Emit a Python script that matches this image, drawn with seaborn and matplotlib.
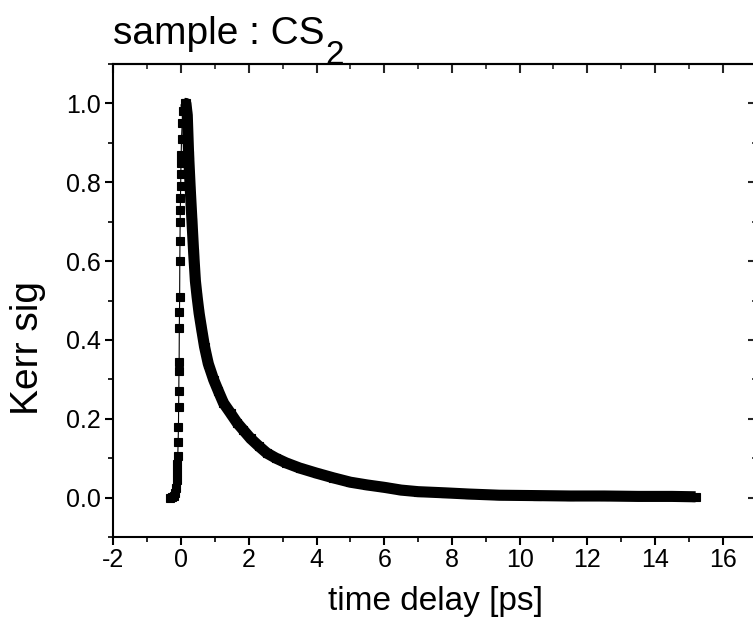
import matplotlib
matplotlib.use("Agg")
import matplotlib.pyplot as plt
import seaborn as sns
import pandas as pd
from matplotlib.ticker import MultipleLocator, FixedLocator

# ---- data ----
time_ps = [-0.32, -0.27, -0.22, -0.18, -0.15, -0.13, -0.12, -0.11, -0.10,
           -0.09, -0.08, -0.075, -0.07, -0.065, -0.06, -0.055, -0.05, -0.045,
           -0.04, -0.035, -0.03, -0.025, -0.02, -0.015, -0.01, -0.005, 0.0,
           0.01, 0.03, 0.06, 0.10, 0.14, 0.18, 0.22, 0.27, 0.32, 0.37, 0.42,
           0.47, 0.53, 0.60, 0.69, 0.80, 0.96, 1.10, 1.25, 1.46, 1.65, 1.83,
           2.05, 2.30, 2.53, 2.80, 3.10, 3.50, 4.00, 4.50, 5.00, 5.50, 6.00,
           6.50, 7.00, 7.80, 8.50, 9.40, 10.5, 11.5, 12.5, 13.5, 14.5, 15.2]
kerr_sig = [0.000, 0.002, 0.005, 0.012, 0.025, 0.045, 0.065, 0.085, 0.105,
            0.14, 0.18, 0.23, 0.27, 0.32, 0.345, 0.43, 0.47, 0.51,
            0.60, 0.65, 0.70, 0.73, 0.76, 0.79, 0.82, 0.85, 0.87,
            0.91, 0.95, 0.98, 1.00, 1.00, 0.97, 0.87, 0.78, 0.70, 0.62, 0.55,
            0.51, 0.468, 0.43, 0.383, 0.34, 0.299, 0.27, 0.24, 0.214, 0.19, 0.172,
            0.150, 0.130, 0.113, 0.100, 0.088, 0.075, 0.062, 0.050, 0.039, 0.032, 0.026,
            0.019, 0.015, 0.012, 0.009, 0.006, 0.005, 0.004, 0.004, 0.003, 0.003, 0.002]
x_ticks = [-2, 0, 2, 4, 6, 8, 10, 12, 14, 16]
x_tick_labels = ["-2", "0", "2", "4", "6", "8", "10", "12", "14", "16"]
y_ticks = [0.0, 0.2, 0.4, 0.6, 0.8, 1.0]
y_tick_labels = ["0.0", "0.2", "0.4", "0.6", "0.8", "1.0"]

df = pd.DataFrame({"t": time_ps, "v": kerr_sig})
df_decay = df[df["t"] >= 0.10]

sns.set_style("ticks")
fam = "Liberation Sans"
plt.rcParams["font.family"] = [fam, "DejaVu Sans"]
plt.rcParams["axes.unicode_minus"] = False

fig = plt.figure(figsize=(7.53, 6.34), dpi=100)
ax = fig.add_axes([0.1507, 0.153, 0.854, 0.746])

# thick band for the dense decay
sns.lineplot(data=df_decay, x="t", y="v", ax=ax, color="black", lw=8.0,
             sort=False, estimator=None, solid_capstyle="butt")
# line + square symbols
sns.lineplot(data=df, x="t", y="v", ax=ax, color="black", lw=0.8,
             marker="s", markersize=6.4, markeredgewidth=0.8,
             markeredgecolor="black", markerfacecolor="black",
             sort=False, estimator=None)

ax.set_xlim(-2, 17)
ax.set_ylim(-0.1, 1.1)
ax.xaxis.set_major_locator(FixedLocator(x_ticks))
ax.set_xticklabels(x_tick_labels)
ax.xaxis.set_minor_locator(MultipleLocator(1))
ax.yaxis.set_major_locator(FixedLocator(y_ticks))
ax.set_yticklabels(y_tick_labels)
ax.yaxis.set_minor_locator(MultipleLocator(0.1))

for s in ax.spines.values():
    s.set_visible(True)
    s.set_linewidth(1.5)
    s.set_color("black")

ax.tick_params(axis="both", which="major", direction="out", length=6,
               width=1.5, labelsize=18, color="black", labelcolor="black")
ax.tick_params(axis="both", which="minor", direction="out", length=3.5,
               width=1.2, color="black")
ax.tick_params(axis="x", which="major", pad=2)
ax.tick_params(axis="y", which="major", pad=3)

# mirrored inward ticks on top and right
axt = ax.secondary_xaxis("top")
axt.xaxis.set_major_locator(FixedLocator(x_ticks))
axt.xaxis.set_minor_locator(MultipleLocator(1))
axt.tick_params(which="major", direction="in", length=6.5, width=1.5, labeltop=False)
axt.tick_params(which="minor", direction="in", length=3.5, width=1.2)
axr = ax.secondary_yaxis("right")
axr.yaxis.set_major_locator(FixedLocator(y_ticks))
axr.yaxis.set_minor_locator(MultipleLocator(0.1))
axr.tick_params(which="major", direction="in", length=6.5, width=1.5, labelright=False)
axr.tick_params(which="minor", direction="in", length=3.5, width=1.2)
for sa in (axt, axr):
    for s in sa.spines.values():
        s.set_linewidth(1.5)

ax.set_xlabel("time delay [ps]", fontsize=24, color="black")
ax.xaxis.set_label_coords(0.5, -0.154)
ax.xaxis.label.set_verticalalignment("baseline")
ax.set_ylabel("Kerr sig", fontsize=28, color="black")
ax.yaxis.set_label_coords(-0.133, 0.40)
ax.yaxis.label.set_verticalalignment("center")

# title with a large, low subscript
t_main = fig.text(113 / 753, 1 - 44 / 634, "sample : CS", fontsize=28,
                  ha="left", va="baseline", color="black")
fig.canvas.draw()
bb = t_main.get_window_extent(renderer=fig.canvas.get_renderer())
fig.text((bb.x1 + 1) / fig.bbox.width, 1 - 64 / 634, "2", fontsize=24,
         ha="left", va="baseline", color="black")

fig.savefig("out.png", dpi=100)
